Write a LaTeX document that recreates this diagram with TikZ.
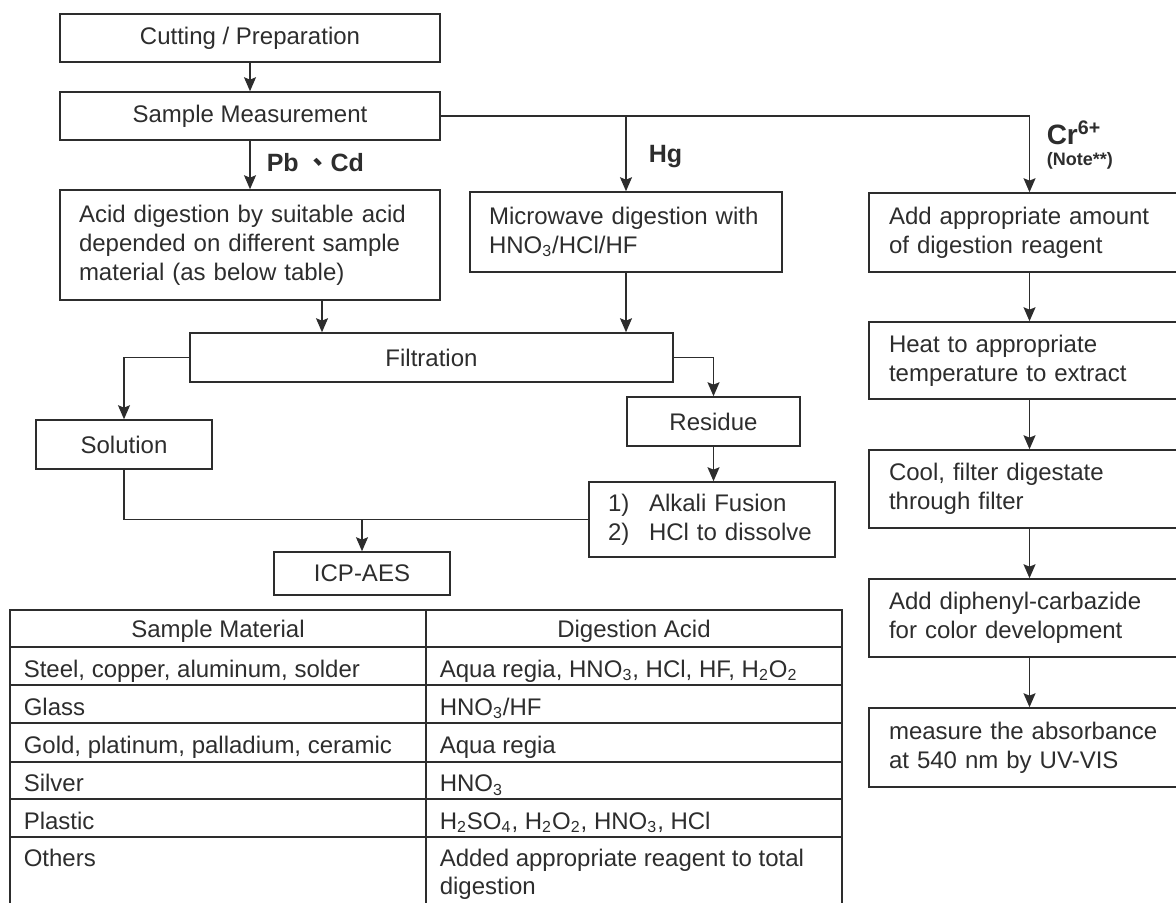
\documentclass[tikz,border=0pt]{standalone}
\usepackage{fontspec}
\setmainfont{Liberation Sans}
\newfontfamily\cjk{Noto Sans CJK TC}
\usetikzlibrary{arrows.meta}
\definecolor{ink}{RGB}{45,45,45}

\begin{document}
\begin{tikzpicture}[x=0.5pt,y=-0.5pt,color=ink,line width=0.75pt]
		\useasboundingbox (0,0) rectangle (1176,903);

		\begin{scope}[every node/.style={rectangle,draw,inner sep=0pt,
		                                 font=\fontsize{12}{14.5}\selectfont}]
		    \node[minimum width=190pt,minimum height=24pt] (prep) at (250,38) {Cutting / Preparation};
		    \node[minimum width=190pt,minimum height=24pt] (samp) at (250,116) {Sample Measurement};
		    \node[text width=171pt,inner xsep=9.5pt,align=left,minimum height=55pt] (acid) at (250,245)
		        {Acid digestion by suitable acid\\ depended on different sample\\ material (as below table)};
		    \node[text width=137pt,inner xsep=9.5pt,align=left,minimum height=40pt] (micro) at (626,232)
		        {Microwave digestion with\\ HNO\textsubscript{3}/HCl/HF};
		    \node[minimum width=241.5pt,minimum height=24.5pt] (filt) at (431.5,357.5) {Filtration};
		    \node[minimum width=88pt,minimum height=24.5pt] (sol) at (124,444.5) {Solution};
		    \node[minimum width=86.5pt,minimum height=24.5pt] (res) at (713.5,421.5) {Residue};
		    \node[text width=104pt,inner xsep=9.5pt,align=left,minimum height=37.5pt] (alk) at (712,519.5)
		        {\makebox[20.5pt][l]{1)}Alkali Fusion\\ \makebox[20.5pt][l]{2)}HCl to dissolve};
		    \node[minimum width=88pt,minimum height=21.5pt] (icp) at (362,573.5) {ICP-AES};

		    % Cr(VI) column
		    \node[text width=140.5pt,inner xsep=10pt,align=left,minimum height=39.5pt] (add) at (1029.5,232.5)
		        {Add appropriate amount\\ of digestion reagent};
		    \node[text width=140.5pt,inner xsep=10pt,align=left,minimum height=38.5pt] (heat) at (1029.5,360.5)
		        {Heat to appropriate\\ temperature to extract};
		    \node[text width=140.5pt,inner xsep=10pt,align=left,minimum height=39pt] (cool) at (1029.5,489)
		        {Cool, filter digestate\\ through filter};
		    \node[text width=140.5pt,inner xsep=10pt,align=left,minimum height=39pt] (diph) at (1029.5,618)
		        {Add diphenyl-carbazide\\ for color development};
		    \node[text width=140.5pt,inner xsep=10pt,align=left,minimum height=39.5pt] (meas) at (1029.5,747.5)
		        {measure the absorbance\\ at 540 nm by UV-VIS};
		\end{scope}

		\begin{scope}[every node/.style={inner sep=0pt,anchor=west,
		                                 font=\bfseries\fontsize{12.5}{14}\selectfont}]
		    \node (pbcd) at (266,163) {Pb {\cjk 、}Cd};
		    \node (hg) at (648,157) {Hg};
		    \node[font=\bfseries\fontsize{14}{16}\selectfont] (cr) at (1046,133) {Cr\textsuperscript{6+}};
		    \node[font=\bfseries\fontsize{9}{10}\selectfont] (note) at (1046,161) {(Note**)};
		\end{scope}

		\begin{scope}[>={Stealth[length=7pt,width=6pt,inset=1.2pt]},
		              every edge/.style={draw=ink}]
		    \path (prep) edge[->] (samp);
		    \path (samp) edge[->] (acid);
		    \path (samp.east -| micro.north) edge[->] (micro.north);
		    \draw[->] (samp.east) -| (add.north);
		    \path ([xshift=36pt]acid.south) edge[->] ([xshift=36pt]acid.south |- filt.north);
		    \path (micro.south) edge[->] (micro.south |- filt.north);
		    \draw[->] (filt.west) -| (sol.north);
		    \draw[->] (filt.east) -| (res.north);
		    \path (res.south) edge[->] (res.south |- alk.north);
		    \draw (sol.south) |- (alk.west);
		    \path (icp.north |- alk.west) edge[->] (icp.north);
		    \path (add) edge[->] (heat);
		    \path (heat) edge[->] (cool);
		    \path (cool) edge[->] (diph);
		    \path (diph) edge[->] (meas);
		\end{scope}

		% acid table
		\draw (10,610) rectangle (842,930);
		\draw (426,610) -- (426,930);
		\draw (10,647) -- (842,647) (10,685) -- (842,685) (10,723) -- (842,723)
		      (10,762) -- (842,762) (10,799) -- (842,799) (10,837) -- (842,837);

		\begin{scope}[every node/.style={inner sep=0pt,anchor=base west,
		                                 font=\fontsize{12}{14.5}\selectfont}]
		    \node[anchor=base] (h-mat) at (218,637) {Sample Material};
		    \node[anchor=base] (h-acid) at (634,637) {Digestion Acid};
		    \node (m-steel) at (23,677) {Steel, copper, aluminum, solder};
		    \node (a-steel) at (439,677) {Aqua regia, HNO\textsubscript{3}, HCl, HF, H\textsubscript{2}O\textsubscript{2}};
		    \node (m-glass) at (23,715) {Glass};
		    \node (a-glass) at (439,715) {HNO\textsubscript{3}/HF};
		    \node (m-gold) at (23,753.5) {Gold, platinum, palladium, ceramic};
		    \node (a-gold) at (439,753.5) {Aqua regia};
		    \node (m-silver) at (23,791.5) {Silver};
		    \node (a-silver) at (439,791.5) {HNO\textsubscript{3}};
		    \node (m-plastic) at (23,829) {Plastic};
		    \node (a-plastic) at (439,829) {H\textsubscript{2}SO\textsubscript{4}, H\textsubscript{2}O\textsubscript{2}, HNO\textsubscript{3}, HCl};
		    \node (m-other) at (23,866) {Others};
		    \node (a-other) at (439,866) {Added appropriate reagent to total};
		    \node (a-other2) at (439,894) {digestion};
		\end{scope}
\end{tikzpicture}
\end{document}
